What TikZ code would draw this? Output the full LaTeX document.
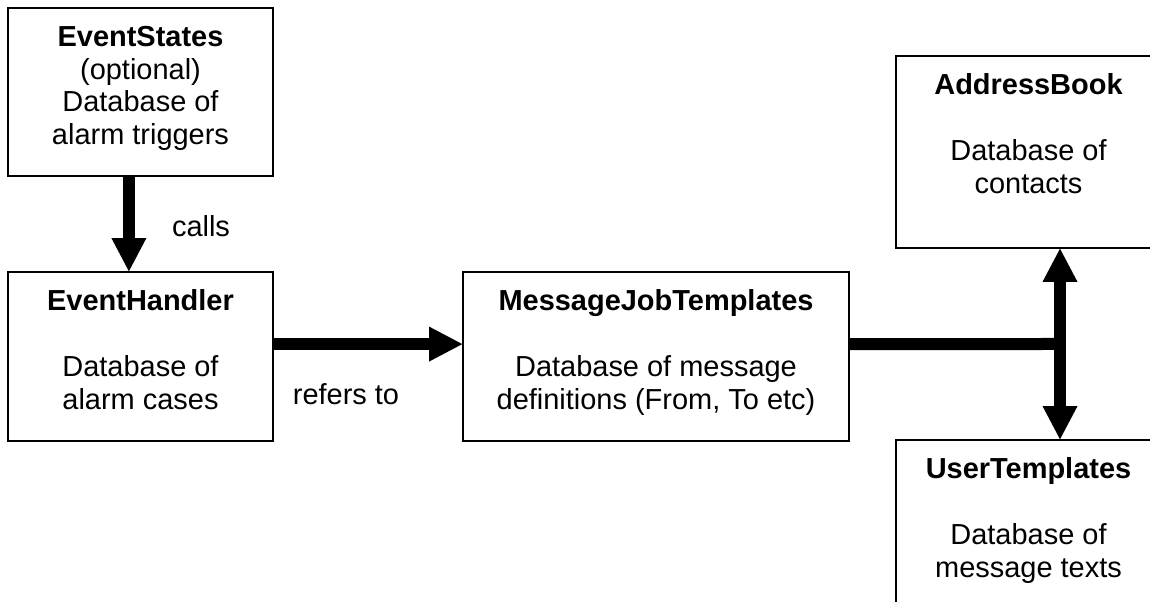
\documentclass[tikz,border=0pt]{standalone}
\usepackage{fontspec}
\setmainfont{Liberation Sans}
\usetikzlibrary{arrows.meta,positioning,calc}
\tikzset{
  dbbox/.style={draw=black,line width=1pt,fill=white,minimum width=6.625cm,inner sep=0pt},
  dbtext/.style={font=\fontsize{20.6}{23.4}\selectfont,align=center,inner sep=0pt,anchor=north},
  lbl/.style={font=\fontsize{20.6}{23.4}\selectfont,inner sep=0pt},
  fat/.style={draw=black,line width=0.3cm},
  fatarr/.style={-{Triangle[length=0.83cm,width=0.875cm,line width=0pt]},draw=black,line width=0.3cm}
}
\begin{document}
\begin{tikzpicture}[x=1cm,y=1cm]
\clip (0,0) rectangle (28.75,15.05);
% boxes
\node[dbbox,minimum height=4.2cm] (es) at (3.5125,12.75) {};
\node[dbbox,minimum height=4.225cm] (eh) at (3.5125,6.1375) {};
\node[dbbox,minimum width=9.65cm,minimum height=4.225cm] (mjt) at (16.4,6.1375) {};
\node[dbbox,minimum height=4.8cm] (ab) at (25.7125,11.25) {};
\node[dbbox,minimum height=5cm] (ut) at (25.7125,1.55) {};
% box texts
\node[dbtext] (estxt) at ([yshift=-0.46cm]es.north) {\textbf{EventStates}\\(optional)\\Database of\\alarm triggers};
\node[dbtext] (ehtxt) at ([yshift=-0.46cm]eh.north) {\textbf{EventHandler}\\[\baselineskip]Database of\\alarm cases};
\node[dbtext] (mjttxt) at ([yshift=-0.46cm]mjt.north) {\textbf{MessageJobTemplates}\\[\baselineskip]Database of message\\definitions (From, To etc)};
\node[dbtext] (abtxt) at ([yshift=-0.46cm]ab.north) {\textbf{AddressBook}\\[\baselineskip]Database of\\contacts};
\node[dbtext] (uttxt) at ([yshift=-0.46cm]ut.north) {\textbf{UserTemplates}\\[\baselineskip]Database of\\message texts};
% connectors
\draw[fatarr] ([xshift=-0.29cm]es.south) -- ([xshift=-0.29cm]eh.north);
\draw[fatarr] ([yshift=0.31cm]eh.east) -- ([yshift=0.31cm]mjt.west);
\coordinate (j) at (26.5,6.45);
\draw[fat] ([yshift=0.31cm]mjt.east) -- (j);
\draw[fatarr] (j) -- (j |- ab.south);
\draw[fatarr] (j) -- (j |- ut.north);
% labels
\node[lbl] (calls) at (5.025,9.4) {calls};
\node[lbl] (refers) at (8.65,5.2) {refers to};
\end{tikzpicture}
\end{document}
